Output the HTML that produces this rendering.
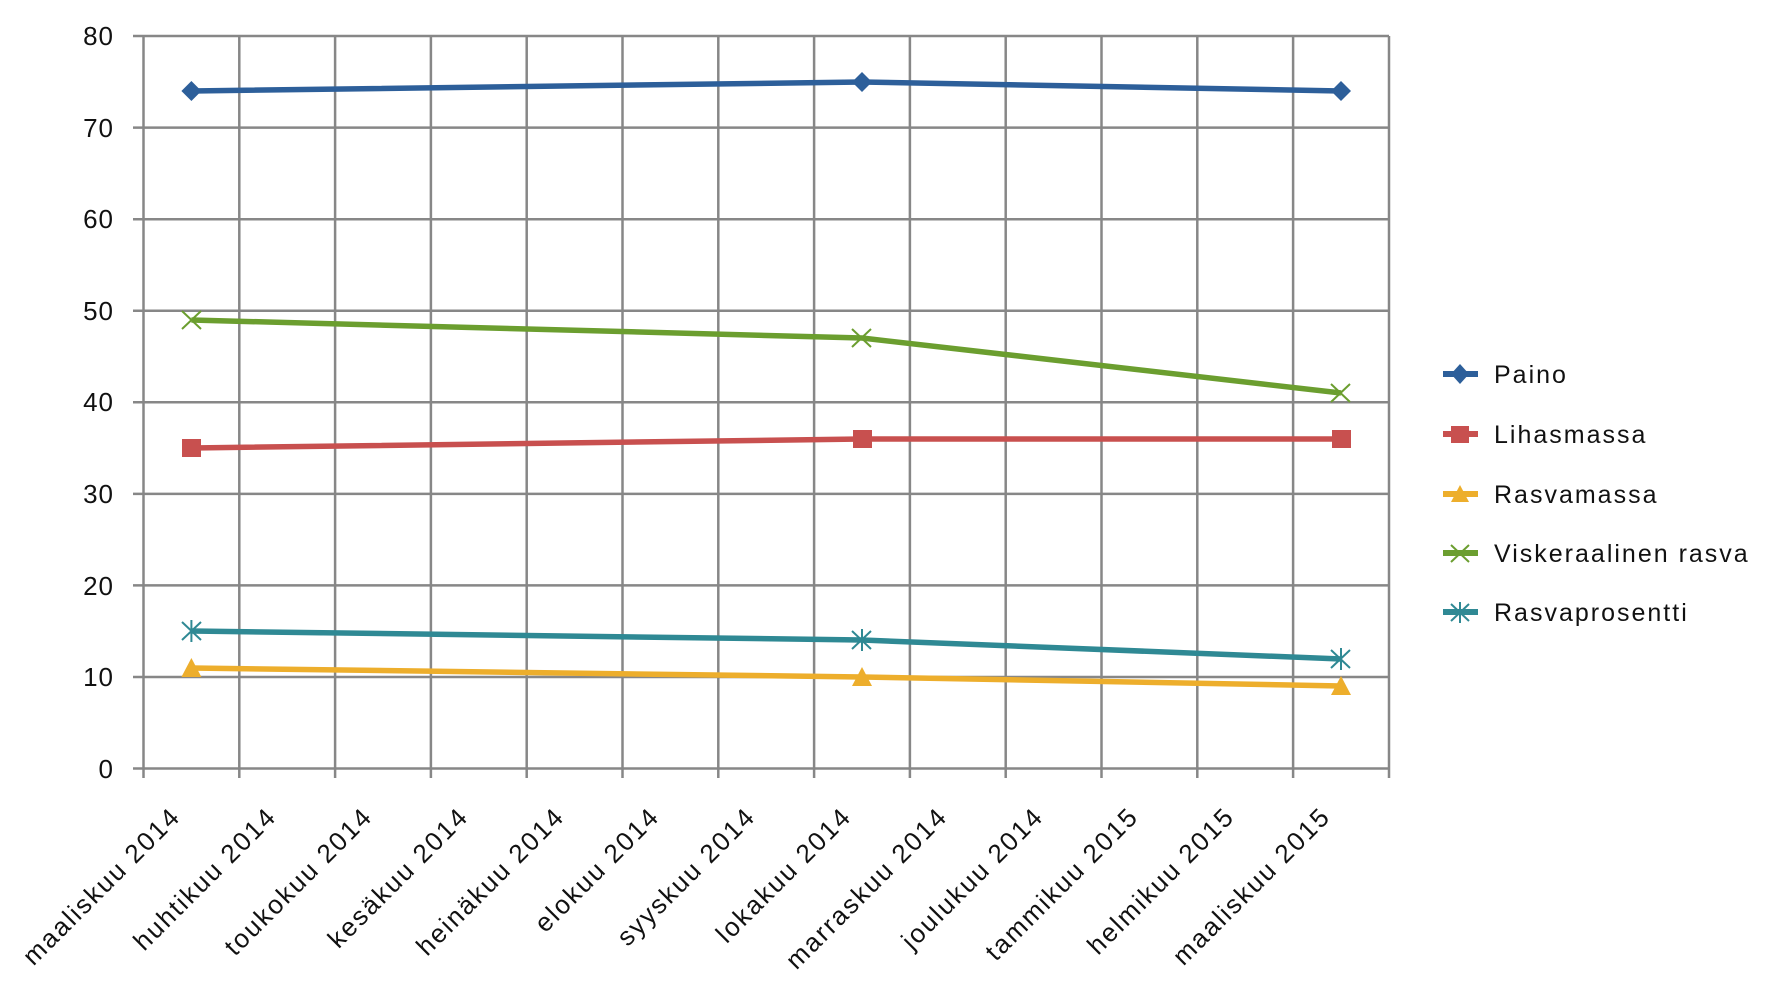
<!DOCTYPE html>
<html><head><meta charset="utf-8"><style>
html,body{margin:0;padding:0;background:#fff;}
svg{display:block;}
text{font-family:"Liberation Sans",sans-serif;fill:#111;}
</style></head><body>
<svg width="1772" height="982" viewBox="0 0 1772 982" xmlns="http://www.w3.org/2000/svg">
<g stroke="#878787" stroke-width="2.5" fill="none">
<line x1="133" y1="768.5" x2="1389" y2="768.5"/>
<line x1="133" y1="677" x2="1389" y2="677"/>
<line x1="133" y1="585.4" x2="1389" y2="585.4"/>
<line x1="133" y1="493.9" x2="1389" y2="493.9"/>
<line x1="133" y1="402.3" x2="1389" y2="402.3"/>
<line x1="133" y1="310.7" x2="1389" y2="310.7"/>
<line x1="133" y1="219.2" x2="1389" y2="219.2"/>
<line x1="133" y1="127.6" x2="1389" y2="127.6"/>
<line x1="133" y1="36" x2="1389" y2="36"/>
<line x1="143.5" y1="36" x2="143.5" y2="778"/>
<line x1="239.3" y1="36" x2="239.3" y2="778"/>
<line x1="335.1" y1="36" x2="335.1" y2="778"/>
<line x1="430.9" y1="36" x2="430.9" y2="778"/>
<line x1="526.7" y1="36" x2="526.7" y2="778"/>
<line x1="622.5" y1="36" x2="622.5" y2="778"/>
<line x1="718.3" y1="36" x2="718.3" y2="778"/>
<line x1="814.1" y1="36" x2="814.1" y2="778"/>
<line x1="909.9" y1="36" x2="909.9" y2="778"/>
<line x1="1005.7" y1="36" x2="1005.7" y2="778"/>
<line x1="1101.5" y1="36" x2="1101.5" y2="778"/>
<line x1="1197.3" y1="36" x2="1197.3" y2="778"/>
<line x1="1293.1" y1="36" x2="1293.1" y2="778"/>
<line x1="1389" y1="36" x2="1389" y2="778"/>
</g>
<g font-size="26" text-anchor="end" letter-spacing="1">
<text x="114" y="778">0</text>
<text x="114" y="686">10</text>
<text x="114" y="595">20</text>
<text x="114" y="503">30</text>
<text x="114" y="411">40</text>
<text x="114" y="320">50</text>
<text x="114" y="228">60</text>
<text x="114" y="137">70</text>
<text x="114" y="45">80</text>
</g>
<g font-size="26" text-anchor="end" letter-spacing="2">
<text transform="translate(182,818) rotate(-45)">maaliskuu 2014</text>
<text transform="translate(278,818) rotate(-45)">huhtikuu 2014</text>
<text transform="translate(374,818) rotate(-45)">toukokuu 2014</text>
<text transform="translate(470,818) rotate(-45)">kesäkuu 2014</text>
<text transform="translate(566,818) rotate(-45)">heinäkuu 2014</text>
<text transform="translate(661,818) rotate(-45)">elokuu 2014</text>
<text transform="translate(757,818) rotate(-45)">syyskuu 2014</text>
<text transform="translate(853,818) rotate(-45)">lokakuu 2014</text>
<text transform="translate(949,818) rotate(-45)">marraskuu 2014</text>
<text transform="translate(1045,818) rotate(-45)">joulukuu 2014</text>
<text transform="translate(1140,818) rotate(-45)">tammikuu 2015</text>
<text transform="translate(1236,818) rotate(-45)">helmikuu 2015</text>
<text transform="translate(1332,818) rotate(-45)">maaliskuu 2015</text>
</g>
<g fill="none" stroke-width="5.5" stroke-linejoin="round">
<polyline stroke="#2d5f9a" points="191.4,91 862,82 1341,91"/>
<polyline stroke="#c8504f" points="191.4,448 862,439 1341,439"/>
<polyline stroke="#edae2c" points="191.4,668 862,677 1341,686"/>
<polyline stroke="#6b9e2f" points="191.4,320 862,338 1341,393"/>
<polyline stroke="#2f8994" points="191.4,631 862,640 1341,659"/>
</g>
<g fill="#2d5f9a">
<polygon points="191.4,81 201.4,91 191.4,101 181.4,91"/>
<polygon points="862,72 872,82 862,92 852,82"/>
<polygon points="1341,81 1351,91 1341,101 1331,91"/>
</g>
<g fill="#c8504f">
<rect x="182" y="439" width="19" height="18"/>
<rect x="853" y="430" width="19" height="18"/>
<rect x="1332" y="430" width="19" height="18"/>
</g>
<g fill="#edae2c">
<polygon points="191.4,658 201.4,677 181.4,677"/>
<polygon points="862,667 872,686 852,686"/>
<polygon points="1341,676 1351,695 1331,695"/>
</g>
<g stroke="#6b9e2f" stroke-width="2">
<path d="M182,311 l19,18 M201,311 l-19,18"/>
<path d="M852,329 l19,18 M871,329 l-19,18"/>
<path d="M1331,384 l19,18 M1350,384 l-19,18"/>
</g>
<g stroke="#2f8994" stroke-width="2">
<path d="M182,622 l19,18 M201,622 l-19,18 M191.4,620 v22"/>
<path d="M852,631 l19,18 M871,631 l-19,18 M862,629 v22"/>
<path d="M1331,650 l19,18 M1350,650 l-19,18 M1341,648 v22"/>
</g>
<g stroke-width="6">
<line x1="1443" y1="374" x2="1478" y2="374" stroke="#2d5f9a"/>
<line x1="1443" y1="434" x2="1478" y2="434" stroke="#c8504f"/>
<line x1="1443" y1="494" x2="1478" y2="494" stroke="#edae2c"/>
<line x1="1443" y1="553" x2="1478" y2="553" stroke="#6b9e2f"/>
<line x1="1443" y1="612" x2="1478" y2="612" stroke="#2f8994"/>
</g>
<polygon points="1460,364 1469,374 1460,384 1451,374" fill="#2d5f9a"/>
<rect x="1451" y="426" width="18" height="17" fill="#c8504f"/>
<polygon points="1460,485 1469,502 1451,502" fill="#edae2c"/>
<path d="M1451,545 l18,17 M1469,545 l-18,17" stroke="#6b9e2f" stroke-width="2"/>
<path d="M1451,604 l18,17 M1469,604 l-18,17 M1460,602 v21" stroke="#2f8994" stroke-width="2"/>
<g font-size="25" letter-spacing="2">
<text x="1494" y="383">Paino</text>
<text x="1494" y="443">Lihasmassa</text>
<text x="1494" y="503">Rasvamassa</text>
<text x="1494" y="562">Viskeraalinen rasva</text>
<text x="1494" y="621">Rasvaprosentti</text>
</g>
</svg>
</body></html>
